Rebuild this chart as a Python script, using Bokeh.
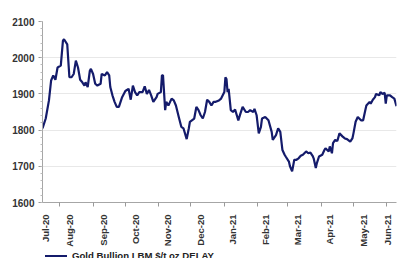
from datetime import datetime
from bokeh.plotting import figure
from bokeh.models import FixedTicker, Range1d, CustomJSTickFormatter, Div
from bokeh.layouts import column
from bokeh.embed import file_html
from bokeh.resources import INLINE
import math

# Gold Bullion LBM $/t oz
dates = [
    "2020-07-16", "2020-07-19", "2020-07-22", "2020-07-24", "2020-07-26", "2020-07-28", "2020-07-30",
    "2020-08-02", "2020-08-04", "2020-08-05", "2020-08-08", "2020-08-10", "2020-08-12", "2020-08-14",
    "2020-08-16", "2020-08-18", "2020-08-20", "2020-08-22", "2020-08-24", "2020-08-25", "2020-08-27",
    "2020-08-29", "2020-08-30", "2020-09-01", "2020-09-03", "2020-09-05", "2020-09-08", "2020-09-09",
    "2020-09-12", "2020-09-14", "2020-09-16", "2020-09-17", "2020-09-19", "2020-09-21", "2020-09-23",
    "2020-09-25", "2020-09-28", "2020-10-01", "2020-10-04", "2020-10-06", "2020-10-08", "2020-10-10",
    "2020-10-12", "2020-10-14", "2020-10-17", "2020-10-19", "2020-10-21", "2020-10-23", "2020-10-25",
    "2020-10-27", "2020-10-30", "2020-10-31", "2020-11-03", "2020-11-04", "2020-11-05", "2020-11-07",
    "2020-11-08", "2020-11-10", "2020-11-13", "2020-11-15", "2020-11-17", "2020-11-20", "2020-11-22",
    "2020-11-24", "2020-11-27", "2020-11-29", "2020-11-30", "2020-12-04", "2020-12-06", "2020-12-08",
    "2020-12-10", "2020-12-12", "2020-12-14", "2020-12-16", "2020-12-18", "2020-12-20", "2020-12-22",
    "2020-12-24", "2020-12-27", "2020-12-29", "2021-01-01", "2021-01-02", "2021-01-03", "2021-01-04",
    "2021-01-05", "2021-01-07", "2021-01-09", "2021-01-11", "2021-01-14", "2021-01-16", "2021-01-18",
    "2021-01-21", "2021-01-23", "2021-01-25", "2021-01-28", "2021-01-29", "2021-01-31", "2021-02-02",
    "2021-02-04", "2021-02-05", "2021-02-08", "2021-02-11", "2021-02-14", "2021-02-15", "2021-02-18",
    "2021-02-20", "2021-02-22", "2021-02-24", "2021-02-26", "2021-02-27", "2021-03-02", "2021-03-03",
    "2021-03-05", "2021-03-07", "2021-03-09", "2021-03-11", "2021-03-13", "2021-03-15", "2021-03-18",
    "2021-03-20", "2021-03-22", "2021-03-24", "2021-03-25", "2021-03-27", "2021-03-28", "2021-03-30",
    "2021-04-02", "2021-04-04", "2021-04-05", "2021-04-08", "2021-04-09", "2021-04-11", "2021-04-12",
    "2021-04-14", "2021-04-16", "2021-04-18", "2021-04-21", "2021-04-23", "2021-04-25", "2021-04-28",
    "2021-04-30", "2021-05-01", "2021-05-03", "2021-05-05", "2021-05-08", "2021-05-10", "2021-05-12",
    "2021-05-13", "2021-05-16", "2021-05-17", "2021-05-19", "2021-05-21", "2021-05-22", "2021-05-25",
    "2021-05-26", "2021-05-28", "2021-05-30", "2021-05-31", "2021-06-01", "2021-06-04", "2021-06-06",
    "2021-06-08", "2021-06-10",
]
prices = [
    1805, 1832, 1882, 1937, 1951, 1939, 1973,
    1978, 2047, 2051, 2037, 1946, 1946, 1955,
    1992, 1973, 1939, 1932, 1923, 1932, 1919,
    1964, 1969, 1955, 1928, 1923, 1928, 1955,
    1951, 1960, 1951, 1919, 1896, 1878, 1864,
    1864, 1891, 1908, 1914, 1884, 1923, 1905,
    1896, 1905, 1905, 1921, 1900, 1911, 1896,
    1878, 1891, 1900, 1905, 1951, 1951, 1855,
    1878, 1868, 1887, 1882, 1868, 1832, 1809,
    1805, 1775, 1805, 1823, 1832, 1864, 1855,
    1841, 1832, 1850, 1884, 1878, 1868, 1878,
    1878, 1882, 1887, 1905, 1946, 1941, 1905,
    1914, 1855, 1850, 1857, 1827, 1846, 1864,
    1850, 1850, 1855, 1850, 1859, 1841, 1791,
    1809, 1832, 1836, 1827, 1795, 1773, 1786,
    1805, 1795, 1745, 1732, 1727, 1713, 1700,
    1686, 1718, 1718, 1722, 1729, 1732, 1741,
    1736, 1738, 1729, 1722, 1695, 1709, 1727,
    1732, 1745, 1750, 1741, 1755, 1736, 1764,
    1773, 1770, 1791, 1782, 1777, 1775, 1768,
    1777, 1791, 1823, 1836, 1827, 1827, 1855,
    1868, 1878, 1873, 1884, 1891, 1900, 1896,
    1905, 1900, 1903, 1873, 1896, 1896, 1891,
    1887, 1866,
]

tick_labels = ["Jul-20", "Aug-20", "Sep-20", "Oct-20", "Nov-20", "Dec-20",
               "Jan-21", "Feb-21", "Mar-21", "Apr-21", "May-21", "Jun-21"]
label_dates = ["2020-07-19", "2020-08-10", "2020-09-11", "2020-10-10", "2020-11-09", "2020-12-10",
               "2021-01-09", "2021-02-08", "2021-03-10", "2021-04-09", "2021-05-10", "2021-06-02"]
month_starts = ["2020-08-01", "2020-09-01", "2020-10-01", "2020-11-01", "2020-12-01", "2021-01-01",
                "2021-02-01", "2021-03-01", "2021-04-01", "2021-05-01", "2021-06-01"]
y_ticks = [1600, 1700, 1800, 1900, 2000, 2100]
series_name = "Gold Bullion LBM $/t oz DELAY"
line_color = "#141b6b"


def ms(s):
    return datetime.strptime(s, "%Y-%m-%d").timestamp() * 1000.0


x = [ms(d) for d in dates]
label_ms = [ms(d) for d in label_dates]
minor_ms = [ms(d) for d in month_starts]

p = figure(width=398, height=250, x_axis_type="datetime",
           output_backend="svg", toolbar_location=None,
           min_border_left=42, min_border_right=2, min_border_top=21, min_border_bottom=48)
p.x_range = Range1d(ms("2020-07-16"), ms("2021-06-10"))
p.y_range = Range1d(1600, 2100)
p.outline_line_color = None
p.background_fill_color = "white"

r = p.line(x, prices, line_color=line_color, line_width=2.2)

# x axis
xa = p.xaxis[0]
xa.ticker = FixedTicker(ticks=label_ms, minor_ticks=minor_ms)
mapping = {str(int(v)): t for v, t in zip(label_ms, tick_labels)}
xa.formatter = CustomJSTickFormatter(args=dict(m=mapping), code="return m[String(Math.round(tick))] || '';")
xa.major_label_orientation = math.pi / 2
xa.major_tick_out = 0
xa.major_tick_in = 0
xa.minor_tick_out = 4
xa.minor_tick_in = 0
xa.minor_tick_line_color = "#999999"
xa.major_label_standoff = 8
xa.axis_line_color = "#a6a6a6"
xa.major_label_text_font = "Liberation Sans"
xa.major_label_text_font_style = "bold"
xa.major_label_text_font_size = "9.5px"
xa.major_label_text_color = "#333333"

# y axis
ya = p.yaxis[0]
ya.ticker = FixedTicker(ticks=y_ticks, minor_ticks=list(range(1600, 2101, 20)))
ya.major_tick_out = 4
ya.major_tick_in = 0
ya.minor_tick_out = 2
ya.minor_tick_in = 0
ya.major_tick_line_color = "#999999"
ya.minor_tick_line_color = "#bbbbbb"
ya.axis_line_color = "#a6a6a6"
ya.major_label_standoff = 4
ya.major_label_text_font = "Liberation Sans"
ya.major_label_text_font_style = "bold"
ya.major_label_text_font_size = "10px"
ya.major_label_text_color = "#333333"

p.xgrid.grid_line_color = None
p.ygrid.grid_line_color = "#e8e8e8"
p.ygrid.ticker = FixedTicker(ticks=y_ticks)

legend_html = (
    '<div style="position:relative;height:14px;white-space:nowrap;">'
    f'<span style="position:absolute;left:45px;top:5px;width:22px;height:0;'
    f'border-top:2px solid {line_color};"></span>'
    '<span style="position:absolute;left:72px;top:0px;font-family:\'Liberation Sans\';'
    'font-weight:bold;font-size:9.6px;line-height:12px;color:#222222;">'
    f'{series_name}</span></div>'
)
div = Div(text=legend_html, width=398, height=8, margin=0,
          styles={"overflow": "hidden"})

layout = column(p, div, spacing=0)

open("out.html", "w").write(file_html(layout, INLINE))
